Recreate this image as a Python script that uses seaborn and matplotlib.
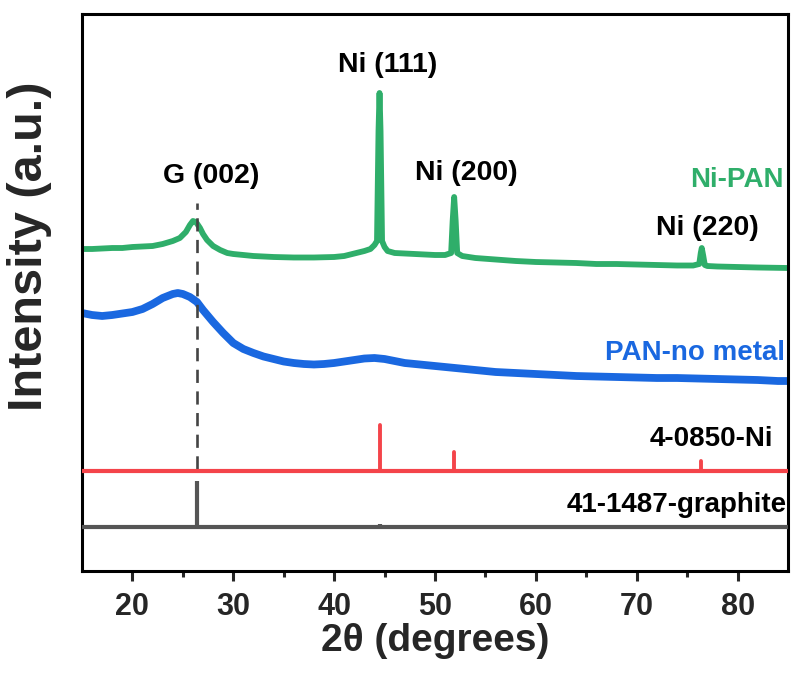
import numpy as np
import pandas as pd
import matplotlib
matplotlib.use("Agg")
import matplotlib.pyplot as plt
import seaborn as sns

# ---------------- data ----------------
ni_pan_2theta = [15, 16, 17, 18, 19, 20, 21, 22, 23, 24, 24.7, 25.3, 25.7, 26.0, 26.3, 26.7,
                 27.0, 27.4, 28, 28.7, 29.4, 30, 32, 34, 36, 38, 40, 41, 42, 43, 43.6, 44.0,
                 44.25, 44.4, 44.5, 44.6, 44.75, 45.0, 45.3, 46, 48, 50, 51.0, 51.6, 51.75,
                 51.9, 52.05, 52.2, 52.7, 54, 56, 58, 60, 62, 64, 66, 68, 70, 72, 74, 75.6,
                 76.2, 76.35, 76.45, 76.6, 76.75, 77.0, 78, 80, 82, 85]
ni_pan_int = [322, 322, 322.5, 323, 323, 324, 324.5, 325, 327, 330, 333, 339, 346, 350, 349, 343,
              337, 331, 325, 321, 318, 317, 315, 314, 313.5, 313.5, 314, 315, 317.5, 320, 322, 326,
              330, 440, 478, 440, 330, 324, 320, 318, 317, 316, 316, 318, 350,
              374, 350, 318, 315, 313, 311.5, 310, 309, 308.5, 308, 307, 307, 306.5, 306, 305.5, 305.5,
              307, 318, 323, 315, 306, 305, 304.5, 304, 303.5, 303]

pan_2theta = [15, 16, 17, 18, 19, 20, 21, 22, 23, 24, 24.5, 25, 25.7, 26.4, 27, 28, 29, 30, 31,
              32, 33, 34, 35, 36, 37, 38, 39, 40, 41, 42, 43, 44, 45, 46, 47, 48, 50, 52, 54,
              56, 58, 60, 62, 64, 66, 68, 70, 72, 74, 76, 78, 80, 82, 84, 85]
pan_int = [258, 256, 255, 256, 257.5, 259, 262, 267, 273, 277, 278, 277, 274, 269, 261, 249, 238,
           228, 222, 218, 214.5, 212, 209.5, 208, 207, 206.5, 207, 208, 209.5, 211, 212.5, 213,
           212, 210, 208, 207, 205, 203, 201, 199, 198, 197, 196, 195, 194.5, 194, 193.5, 193,
           193, 192.5, 192, 191.5, 191, 190, 190]

ni_ref_pos = [44.5, 51.85, 76.4]
ni_ref_height = [46, 19, 10]
ni_ref_base = 100

gr_ref_pos = [26.4, 42.4, 44.5, 54.7, 59.9, 77.4, 83.5]
gr_ref_height = [46, 2, 3, 2, 1.5, 2, 2]
gr_ref_base = 44

g002_pos = 26.4

peak_labels = ["G (002)", "Ni (111)", "Ni (200)", "Ni (220)"]
peak_label_x = [27.84, 45.32, 53.06, 77.0]
peak_label_y = [388, 499, 391, 336]

xlim = (15, 85)
ylim = (0, 557)
xticks = [20, 30, 40, 50, 60, 70, 80]

GREEN = "#2FAE6A"
BLUE = "#1A68E0"
RED = "#F4444A"
GRAY = "#555555"

# ---------------- figure ----------------
sns.set_style("ticks")
plt.rcParams["font.family"] = ["Liberation Sans", "DejaVu Sans"]
plt.rcParams["font.weight"] = "bold"

fig = plt.figure(figsize=(7.92, 6.74), dpi=100)
ax = fig.add_axes([82 / 792, 103 / 674, 706 / 792, 557 / 674])

df_green = pd.DataFrame({"x": ni_pan_2theta, "y": ni_pan_int})
df_blue = pd.DataFrame({"x": pan_2theta, "y": pan_int})

sns.lineplot(data=df_blue, x="x", y="y", ax=ax, color=BLUE, lw=5.6, sort=False,
             estimator=None, solid_joinstyle="round", solid_capstyle="round")
sns.lineplot(data=df_green, x="x", y="y", ax=ax, color=GREEN, lw=4.2, sort=False,
             estimator=None, solid_joinstyle="round", solid_capstyle="round")

# reference patterns
ax.hlines(ni_ref_base, xlim[0], xlim[1], color=RED, lw=3.0, zorder=3)
ax.vlines(ni_ref_pos, ni_ref_base, [ni_ref_base + h for h in ni_ref_height],
          color=RED, lw=2.8, zorder=3, capstyle="round")
ax.hlines(gr_ref_base, xlim[0], xlim[1], color=GRAY, lw=3.0, zorder=3)
ax.vlines(gr_ref_pos, gr_ref_base, [gr_ref_base + h for h in gr_ref_height],
          color=GRAY, lw=3.0, zorder=3)

# dashed guide line at G(002)
ax.vlines([g002_pos], ni_ref_base + 2, 368, color="#444444", lw=1.9,
          linestyles=(0, (5, 3.2)), zorder=2)

# labels
for t, x, y in zip(peak_labels, peak_label_x, peak_label_y):
    ax.text(x, y, t, ha="center", va="baseline", fontsize=20.5, fontweight="bold", color="black")
ax.text(84.54, 384, "Ni-PAN", ha="right", va="baseline", fontsize=20, fontweight="bold", color=GREEN)
ax.text(84.7, 211, "PAN-no metal", ha="right", va="baseline", fontsize=20, fontweight="bold", color=BLUE)
ax.text(83.55, 125, "4-0850-Ni", ha="right", va="baseline", fontsize=20, fontweight="bold", color="black")
ax.text(84.85, 59, "41-1487-graphite", ha="right", va="baseline", fontsize=20, fontweight="bold", color="black")

ax.set_xlim(*xlim)
ax.set_ylim(*ylim)
ax.set_xticks(xticks)
ax.set_xticks(np.arange(25, 85, 10), minor=True)
ax.set_yticks([])
ax.tick_params(axis="x", which="major", direction="out", length=7, width=2.2,
               labelsize=22, pad=8, top=False)
ax.tick_params(axis="x", which="minor", direction="out", length=4, width=2.2, top=False)
for lab in ax.get_xticklabels():
    lab.set_fontweight("bold")
for s in ax.spines.values():
    s.set_visible(True)
    s.set_linewidth(2.2)
    s.set_color("black")

ax.set_xlabel("2θ (degrees)", fontsize=28, fontweight="bold", labelpad=1)
ax.set_ylabel("Intensity (a.u.)", fontsize=35, fontweight="bold")
ax.yaxis.set_label_coords(-0.042, 0.583)

fig.savefig("out.png", dpi=100)
